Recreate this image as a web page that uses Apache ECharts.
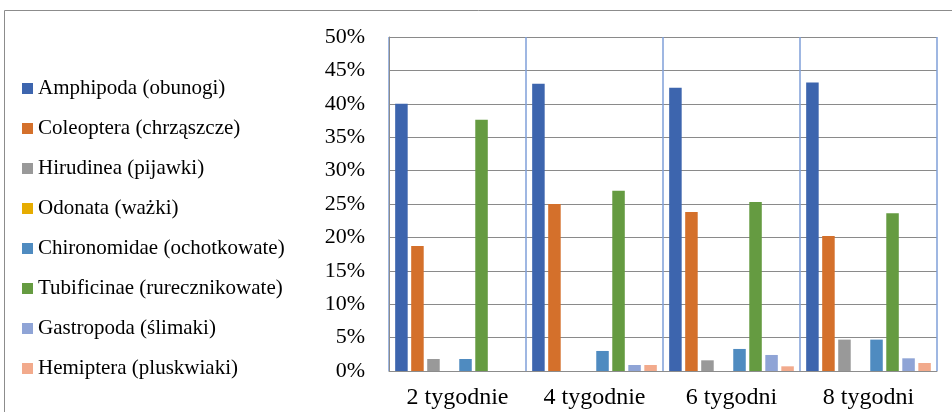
<!DOCTYPE html>
<html>
<head>
<meta charset="utf-8">
<script src="https://cdn.jsdelivr.net/npm/echarts@6/dist/echarts.min.js"></script>
<style>
  html, body { margin: 0; padding: 0; background: #fff; }
  #chart { width: 952px; height: 412px; }
</style>
</head>
<body>
<div id="chart"></div>
<script>
// Okresy poboru
const categories = ['2 tygodnie', '4 tygodnie', '6 tygodni', '8 tygodni'];

// Udział procentowy grup bezkręgowców
const amphipoda    = [40.0, 43.0, 42.4, 43.2];
const coleoptera   = [18.7, 25.0, 23.8, 20.2];
const hirudinea    = [1.8, 0, 1.6, 4.7];
const odonata      = [0, 0, 0, 0];
const chironomidae = [1.8, 3.0, 3.3, 4.7];
const tubificinae  = [37.6, 27.0, 25.3, 23.6];
const gastropoda   = [0, 0.9, 2.4, 1.9];
const hemiptera    = [0, 0.9, 0.7, 1.2];

const seriesNames = [
  'Amphipoda (obunogi)',
  'Coleoptera (chrząszcze)',
  'Hirudinea (pijawki)',
  'Odonata (ważki)',
  'Chironomidae (ochotkowate)',
  'Tubificinae (rurecznikowate)',
  'Gastropoda (ślimaki)',
  'Hemiptera (pluskwiaki)'
];
const seriesData = [amphipoda, coleoptera, hirudinea, odonata, chironomidae, tubificinae, gastropoda, hemiptera];
const colors = ['#3d65ae', '#d4702b', '#999999', '#e6ac00', '#4f8bc0', '#659b41', '#8fa4d6', '#f2aa8c'];

const FONT = '"Liberation Serif", "Times New Roman", serif';

const chart = echarts.init(document.getElementById('chart'), null, { renderer: 'canvas' });

chart.setOption({
  animation: false,
  color: colors,
  textStyle: { fontFamily: FONT },
  graphic: [{
    type: 'rect',
    shape: { x: 4.5, y: 10.5, width: 960, height: 420 },
    style: { fill: 'none', stroke: '#8c8c8c', lineWidth: 1 },
    silent: true
  }],
  legend: {
    orient: 'vertical',
    left: 17,
    top: 73,
    itemWidth: 11,
    itemHeight: 11,
    itemGap: 19,
    icon: 'rect',
    textStyle: { fontFamily: FONT, fontSize: 21, color: '#000' },
    data: seriesNames
  },
  grid: { left: 389, right: 15, top: 37, bottom: 41, containLabel: false },
  xAxis: {
    type: 'category',
    data: categories,
    axisLine: { show: true, lineStyle: { color: '#8c8c8c', width: 1 } },
    axisTick: { show: false },
    axisLabel: { fontFamily: FONT, fontSize: 24, color: '#000', margin: 15 },
    splitLine: { show: true, lineStyle: { color: '#7f9fd8', width: 1.5 } }
  },
  yAxis: {
    type: 'value',
    min: 0,
    max: 50,
    interval: 5,
    axisLine: { show: true, lineStyle: { color: '#8c8c8c', width: 1 } },
    axisTick: { show: false },
    axisLabel: { fontFamily: FONT, fontSize: 22, color: '#000', margin: 24, formatter: '{value}%' },
    splitLine: { show: true, lineStyle: { color: '#8a8a8a', width: 1.2 } }
  },
  series: seriesNames.map((name, i) => ({
    name: name,
    type: 'bar',
    data: seriesData[i],
    barGap: '28%',
    barCategoryGap: '9%',
    itemStyle: { color: colors[i] }
  }))
});
</script>
</body>
</html>
